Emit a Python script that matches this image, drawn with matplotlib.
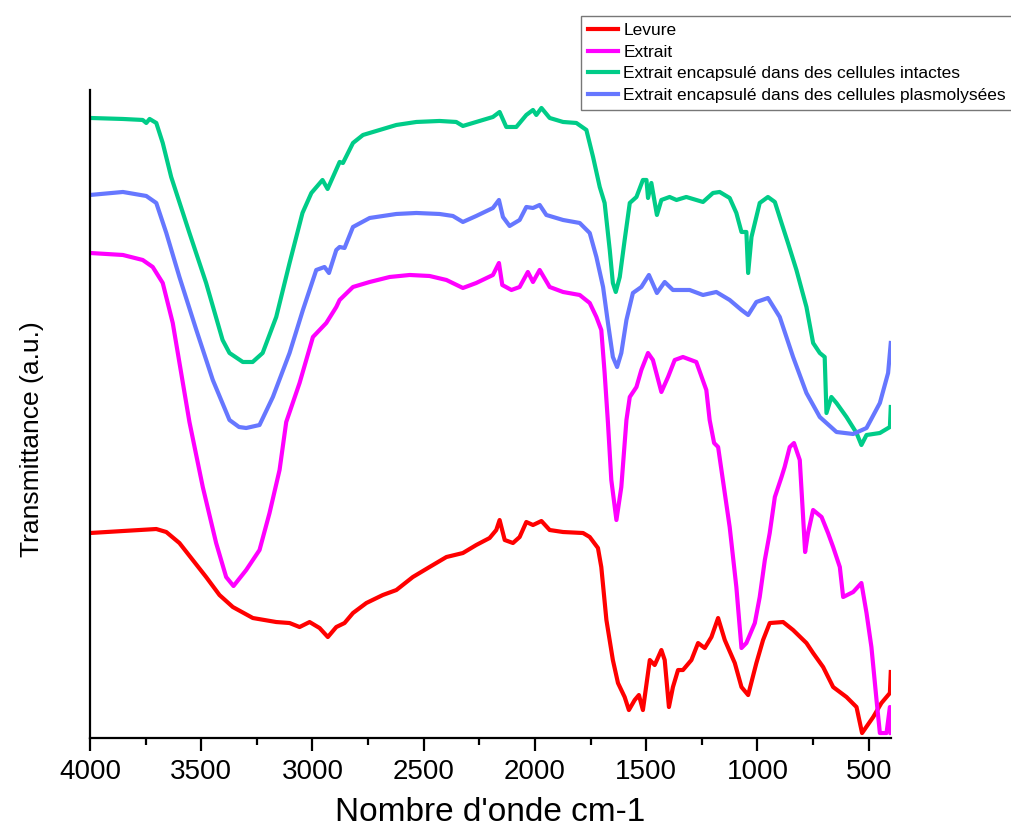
import numpy as np
import matplotlib
matplotlib.use('Agg')
import matplotlib.pyplot as plt
from matplotlib.ticker import MultipleLocator

plt.rcParams['font.family'] = ['Liberation Sans', 'DejaVu Sans']

# Spectres IR (nombre d'onde cm-1, transmittance u.a.)
wn_levure = [4000, 3852, 3702, 3657, 3598, 3538, 3478, 3418, 3358, 3268, 3163, 3103,
             3058, 3013, 2968, 2931, 2893, 2856, 2818, 2758, 2684, 2623, 2549, 2474,
             2398, 2324, 2264, 2204, 2174, 2159, 2136, 2099, 2069, 2039, 2009, 1971,
             1934, 1874, 1784, 1754, 1717, 1702, 1679, 1650, 1627, 1597, 1578, 1552,
             1533, 1515, 1484, 1462, 1432, 1417, 1398, 1380, 1357, 1335, 1297, 1267,
             1237, 1207, 1177, 1147, 1102, 1072, 1042, 1005, 975, 945, 885, 840,
             780, 750, 705, 660, 600, 555, 530, 480, 443, 405, 401]
t_levure = [20.5, 20.7, 20.9, 20.6, 19.5, 17.8, 16.1, 14.3, 13.1, 12.0, 11.6, 11.5,
            11.1, 11.6, 11.0, 10.1, 11.1, 11.5, 12.5, 13.5, 14.3, 14.8, 16.1, 17.1,
            18.1, 18.5, 19.3, 20.0, 20.8, 21.8, 19.8, 19.5, 20.1, 21.6, 21.3, 21.7,
            20.8, 20.6, 20.5, 20.1, 19.0, 17.1, 11.8, 7.8, 5.5, 4.1, 2.8, 3.8,
            4.3, 2.8, 7.8, 7.3, 8.8, 7.8, 3.1, 5.1, 6.8, 6.8, 7.8, 9.5,
            9.0, 10.1, 12.0, 9.8, 7.5, 5.1, 4.3, 7.5, 9.8, 11.5, 11.6, 10.8,
            9.5, 8.5, 7.1, 5.1, 4.1, 3.1, 0.5, 2.1, 3.5, 4.5, 6.6]

wn_extrait = [4000, 3852, 3763, 3718, 3673, 3628, 3553, 3493, 3433, 3388, 3355, 3298,
              3238, 3193, 3148, 3118, 3058, 2998, 2938, 2893, 2878, 2818, 2743, 2653,
              2563, 2474, 2398, 2324, 2264, 2189, 2162, 2147, 2106, 2069, 2032, 2009,
              1979, 1934, 1874, 1799, 1754, 1724, 1702, 1687, 1672, 1657, 1634, 1612,
              1589, 1574, 1544, 1522, 1492, 1470, 1432, 1402, 1372, 1335, 1275, 1230,
              1215, 1195, 1177, 1125, 1095, 1072, 1050, 1012, 990, 967, 945, 922,
              892, 878, 855, 836, 810, 795, 786, 773, 750, 712, 683, 660,
              630, 615, 570, 533, 510, 488, 465, 450, 420, 405, 401]
t_extrait = [48.5, 48.3, 47.8, 47.1, 45.5, 41.5, 31.6, 25.1, 19.5, 16.1, 15.2, 16.8,
             18.8, 22.5, 26.8, 31.6, 35.5, 40.1, 41.5, 43.1, 43.8, 45.1, 45.6, 46.1,
             46.3, 46.2, 45.8, 45.0, 45.5, 46.3, 47.5, 45.3, 44.8, 45.1, 46.6, 45.6,
             46.8, 45.1, 44.6, 44.3, 43.5, 42.1, 40.8, 36.5, 31.5, 25.8, 21.8, 25.1,
             31.8, 34.1, 35.1, 36.8, 38.5, 37.8, 34.6, 36.1, 37.8, 38.1, 37.6, 34.8,
             31.8, 29.5, 29.1, 21.1, 15.1, 9.0, 9.5, 11.5, 14.1, 17.8, 20.5, 24.1,
             26.1, 27.1, 29.1, 29.5, 27.8, 22.1, 18.6, 20.5, 22.8, 22.1, 20.5, 19.1,
             17.1, 14.1, 14.6, 15.5, 12.5, 9.1, 3.8, 0.5, 0.5, 3.1, 0.5]

wn_intactes = [4000, 3852, 3763, 3747, 3732, 3702, 3673, 3635, 3553, 3478, 3404, 3373,
               3313, 3269, 3224, 3163, 3103, 3045, 3005, 2955, 2932, 2878, 2863, 2818,
               2773, 2698, 2623, 2533, 2429, 2354, 2324, 2279, 2189, 2159, 2129, 2084,
               2039, 2009, 1994, 1971, 1934, 1874, 1814, 1769, 1739, 1709, 1687, 1664,
               1650, 1637, 1619, 1597, 1574, 1544, 1515, 1499, 1492, 1477, 1452, 1432,
               1395, 1364, 1320, 1245, 1200, 1170, 1125, 1095, 1072, 1050, 1042, 1027,
               990, 953, 922, 892, 863, 825, 780, 750, 720, 698, 690, 668,
               645, 600, 555, 533, 510, 450, 405, 401]
t_intactes = [62.0, 61.9, 61.8, 61.5, 61.9, 61.5, 59.5, 56.1, 50.5, 45.5, 39.8, 38.5,
              37.6, 37.6, 38.5, 42.1, 47.5, 52.5, 54.5, 55.8, 54.9, 57.6, 57.5, 59.5,
              60.3, 60.8, 61.3, 61.6, 61.7, 61.6, 61.2, 61.5, 62.1, 62.6, 61.1, 61.1,
              62.3, 62.8, 62.3, 63.0, 62.0, 61.6, 61.5, 60.8, 58.1, 55.1, 53.5, 48.8,
              45.5, 44.6, 46.1, 49.8, 53.5, 54.1, 55.8, 55.8, 54.0, 55.5, 52.3, 53.8,
              54.1, 53.8, 54.1, 53.6, 54.5, 54.6, 54.0, 52.5, 50.6, 50.6, 46.5, 50.1,
              53.5, 54.1, 53.6, 51.5, 49.5, 46.8, 43.1, 39.5, 38.5, 38.1, 32.5, 34.1,
              33.5, 32.1, 30.5, 29.3, 30.3, 30.5, 31.1, 33.1]

wn_plasmo = [4000, 3852, 3747, 3702, 3657, 3598, 3522, 3448, 3373, 3330, 3298, 3238,
             3178, 3103, 3043, 2983, 2946, 2926, 2893, 2878, 2856, 2818, 2743, 2623,
             2533, 2429, 2369, 2324, 2264, 2189, 2162, 2144, 2114, 2069, 2039, 2009,
             1979, 1949, 1874, 1799, 1754, 1724, 1694, 1672, 1650, 1631, 1612, 1589,
             1560, 1522, 1488, 1452, 1417, 1380, 1305, 1245, 1185, 1125, 1072, 1042,
             1005, 953, 900, 840, 780, 720, 645, 570, 510, 450, 413, 401]
t_plasmo = [54.3, 54.6, 54.2, 53.5, 50.5, 46.1, 40.8, 35.8, 31.8, 31.1, 31.0, 31.3,
            34.1, 38.5, 42.8, 46.8, 47.1, 46.5, 48.8, 49.1, 49.0, 51.1, 52.0, 52.4,
            52.5, 52.4, 52.2, 51.6, 52.2, 53.0, 53.8, 52.1, 51.2, 51.8, 53.1, 53.0,
            53.3, 52.3, 51.8, 51.5, 50.5, 48.1, 45.1, 41.5, 38.1, 37.1, 38.5, 41.8,
            44.5, 45.1, 46.3, 44.5, 45.6, 44.8, 44.8, 44.3, 44.6, 43.8, 42.8, 42.3,
            43.6, 44.0, 42.1, 38.1, 34.5, 32.1, 30.6, 30.4, 31.0, 33.5, 36.5, 39.5]

labels = ['Levure', 'Extrait', 'Extrait encapsulé dans des cellules intactes',
          'Extrait encapsulé dans des cellules plasmolysées']
colors = ['#FF0000', '#FF00FF', '#00CC88', '#6677FF']

fig = plt.figure(figsize=(10.11, 8.33), dpi=100)
ax = fig.add_axes([0.089, 0.114, 0.7923, 0.778])

series = [(wn_levure, t_levure), (wn_extrait, t_extrait),
          (wn_intactes, t_intactes), (wn_plasmo, t_plasmo)]
for (x, y), lab, col in zip(series, labels, colors):
    ax.plot(x, y, color=col, lw=3, label=lab, solid_joinstyle='round')

ax.set_xlim(4000, 400)
ax.set_ylim(0, 64.8)
ax.xaxis.set_major_locator(MultipleLocator(500))
ax.xaxis.set_minor_locator(MultipleLocator(250))
ax.set_yticks([])
for side in ['top', 'right']:
    ax.spines[side].set_visible(False)
for side in ['left', 'bottom']:
    ax.spines[side].set_linewidth(1.6)
ax.tick_params(axis='x', which='major', length=9, width=1.6, pad=6, labelsize=20)
ax.tick_params(axis='x', which='minor', length=5, width=1.6)

ax.set_xlabel("Nombre d'onde cm-1", fontsize=24, labelpad=9)
ax.set_ylabel('Transmittance (a.u.)', fontsize=19)
ax.yaxis.set_label_coords(-0.058, 0.461)

leg = ax.legend(loc='upper left', bbox_to_anchor=(0.5745, 0.981),
                bbox_transform=fig.transFigure, borderaxespad=0,
                fontsize=12.5, frameon=True, fancybox=False, edgecolor='#555555',
                handlelength=1.75, handletextpad=0.3, labelspacing=0.38,
                borderpad=0.4)
leg.get_frame().set_linewidth(1.0)

fig.savefig('out.png', dpi=100)
plt.close()
